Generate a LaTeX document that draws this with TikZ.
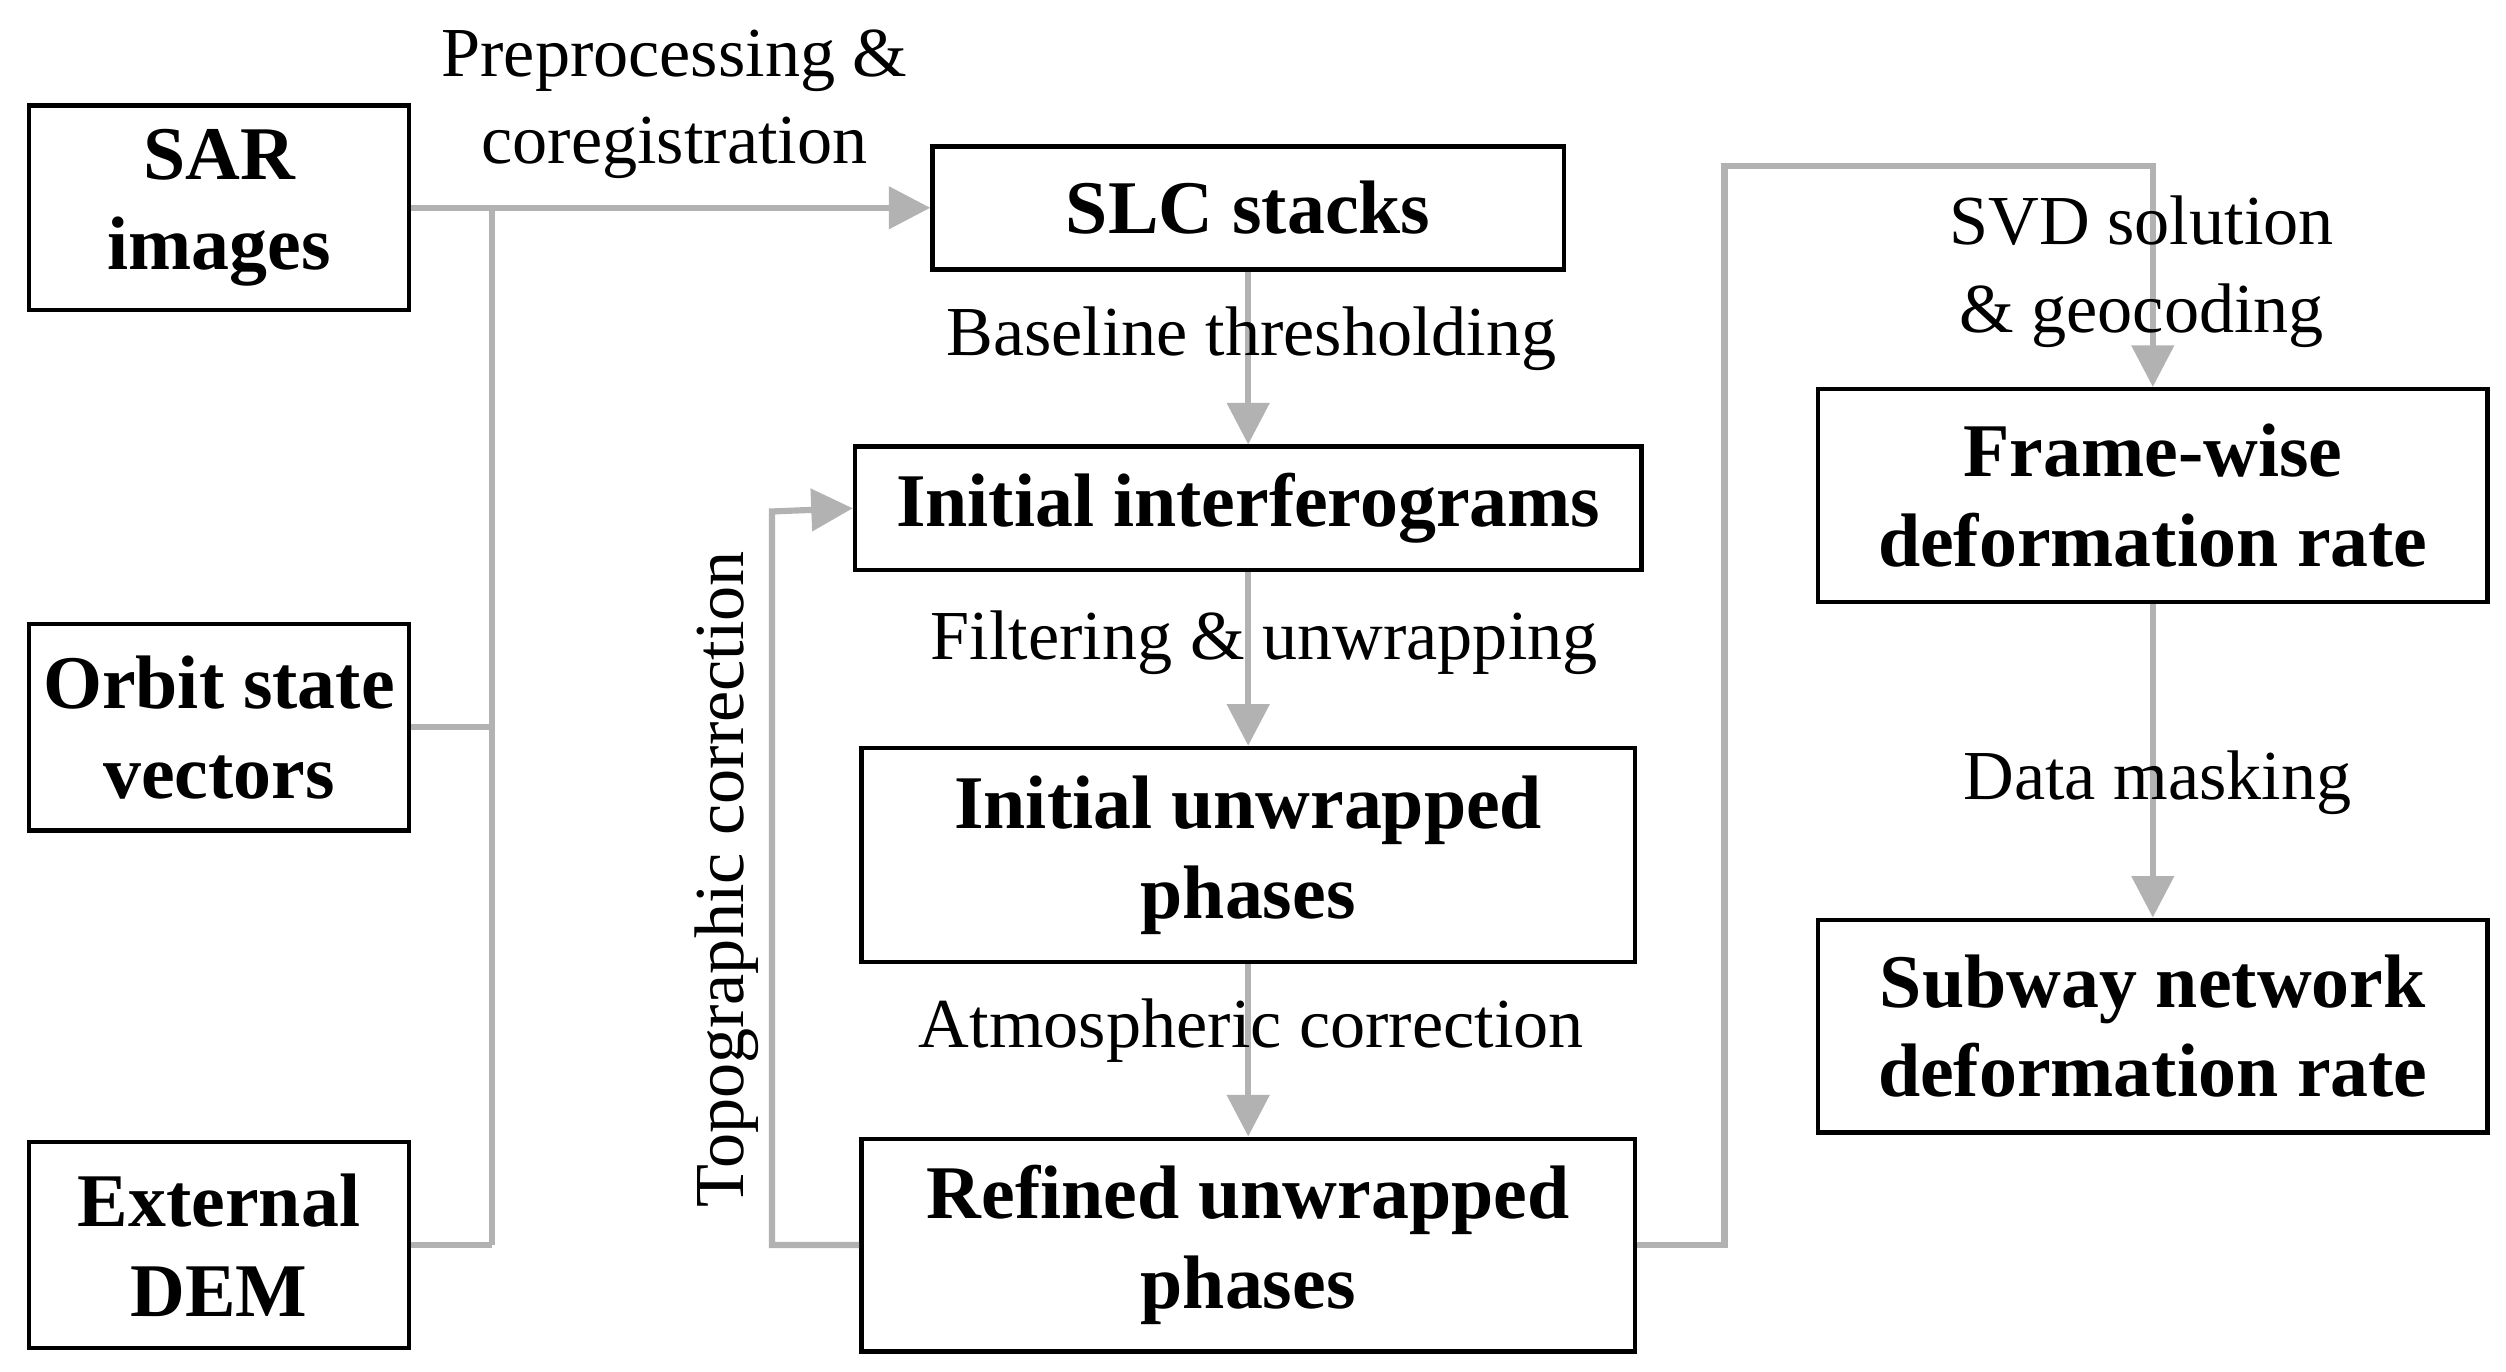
\documentclass[tikz,border=0pt]{standalone}
\usepackage{fontspec}
\setmainfont{Liberation Serif}
\usetikzlibrary{arrows.meta}
\begin{document}
\begin{tikzpicture}[x=0.1mm,y=-0.1mm,
 box/.style={draw=black,line width=0.8pt,font=\fontsize{13.5}{16}\selectfont\bfseries,align=center,inner sep=0pt},
 lab/.style={font=\fontsize{12.5}{15.5}\selectfont,align=center,inner sep=0pt},
 ln/.style={draw=gray!60,line width=1.1pt},
 ar/.style={ln,-{Triangle[length=2.6mm,width=2.6mm]}}]
\useasboundingbox (0,0) rectangle (1568,858);
\node[box,minimum width=23.8mm,minimum height=12.8mm] (sar) at (137,130) {SAR\\images};
\node[box,minimum width=23.8mm,minimum height=12.9mm] (orb) at (137,455) {Orbit state\\vectors};
\node[box,minimum width=23.8mm,minimum height=12.9mm] (dem) at (137,779) {External\\DEM};
\node[box,minimum width=39.5mm,minimum height=7.7mm] (slc) at (781,130) {SLC stacks};
\node[box,minimum width=49.2mm,minimum height=7.7mm] (ii) at (781,318) {Initial interferograms};
\node[box,minimum width=48.4mm,minimum height=13.4mm] (iu) at (781,535) {Initial unwrapped\\phases};
\node[box,minimum width=48.4mm,minimum height=13.3mm] (ru) at (781,779) {Refined unwrapped\\phases};
\node[box,minimum width=41.9mm,minimum height=13.3mm] (fw) at (1347,310) {Frame-wise\\deformation rate};
\node[box,minimum width=41.9mm,minimum height=13.3mm] (sw) at (1347,642) {Subway network\\deformation rate};
\coordinate (j) at (308,130);
\draw[ar] (sar.east) -- (slc.west);
\draw[ln] (j) -- (308,779);
\draw[ln] (orb.east) -- (308,455);
\draw[ln] (dem.east) -- (308,779);
\draw[ar] (slc.south) -- (ii.north);
\draw[ar] (ii.south) -- (iu.north);
\draw[ar] (iu.south) -- (ru.north);
\draw[ar] (ru.west) -- (483,779) -- (483,320) -- (ii.west);
\draw[ar] (ru.east) -- (1079,779) -- (1079,104) -- (1347,104) -- (fw.north);
\draw[ar] (fw.south) -- (sw.north);
\node[lab] (l1) at (422,65) {Preprocessing \&\\coregistration};
\node[lab] (l2) at (783,212) {Baseline thresholding};
\node[lab] (l3) at (791,402) {Filtering \& unwrapping};
\node[lab] (l4) at (783,645) {Atmospheric correction};
\node[lab] (l5) at (1340,170) {SVD solution\\\& geocoding};
\node[lab] (l6) at (1350,490) {Data masking};
\node[lab,rotate=90] (l7) at (455,550) {Topographic correction};
\end{tikzpicture}
\end{document}
